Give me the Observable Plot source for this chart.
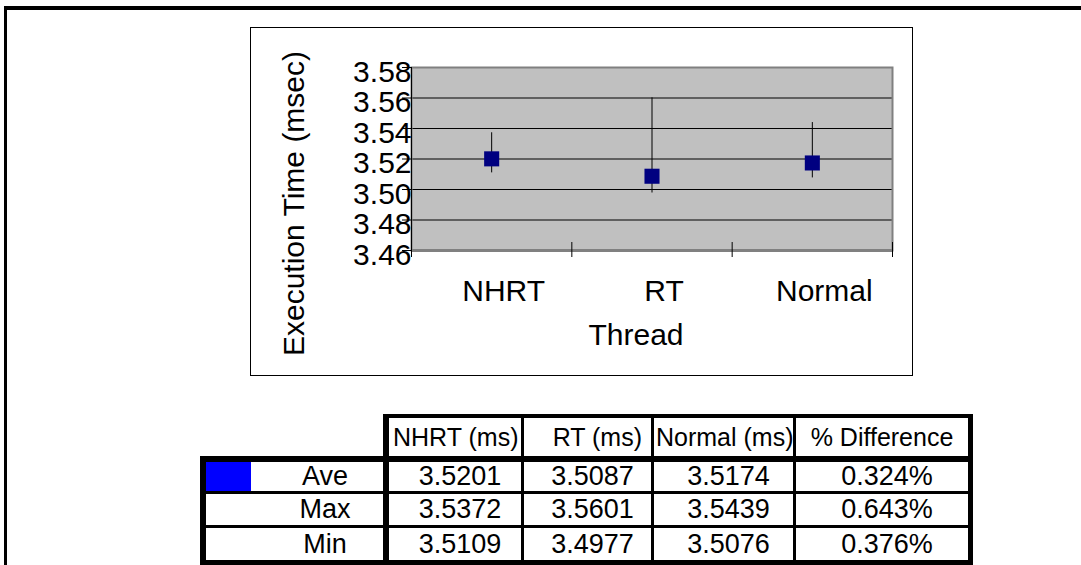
<!DOCTYPE html>
<html><head><meta charset="utf-8">
<script src="https://cdn.jsdelivr.net/npm/d3@7"></script>
<script src="https://cdn.jsdelivr.net/npm/@observablehq/plot@0.6"></script>
<style>
html,body{margin:0;padding:0;background:#fff;}
#page{position:relative;width:1081px;height:565px;overflow:hidden;font-family:"Liberation Sans",Arial,sans-serif;color:#000;}
.line{position:absolute;background:#000;}
.cell{position:absolute;display:flex;align-items:center;white-space:nowrap;line-height:1;box-sizing:border-box;}
</style></head><body><div id="page"></div>
<script>
// ---- data ----
const threads = ["NHRT", "RT", "Normal"];
const aveValues = [3.5201, 3.5087, 3.5174];
const maxValues = [3.5372, 3.5601, 3.5439];
const minValues = [3.5109, 3.4977, 3.5076];
const pctDiff = ["0.324%", "0.643%", "0.376%"];
const rowLabels = ["Ave", "Max", "Min"];
const headerLabels = ["NHRT (ms)", "RT (ms)", "Normal (ms)", "% Difference"];
const yTicks = [3.46, 3.48, 3.50, 3.52, 3.54, 3.56, 3.58];
const yTitle = "Execution Time (msec)";
const xTitle = "Thread";

const data = threads.map((t, i) => ({thread: t, pos: i + 0.5, ave: aveValues[i], max: maxValues[i], min: minValues[i]}));
const yMin = yTicks[0], yMax = yTicks[yTicks.length - 1];

const page = document.getElementById("page");
function add(cls, style, text) {
  const d = document.createElement("div");
  d.className = cls;
  Object.assign(d.style, style);
  if (text != null) d.textContent = text;
  page.appendChild(d);
  return d;
}

// outer frame lines
add("line", {left: "4px", top: "6px", width: "1077px", height: "4px"});
add("line", {left: "4px", top: "6px", width: "3px", height: "559px"});

// chart box
add("", {position: "absolute", left: "250px", top: "27px", width: "663px", height: "349px", border: "1px solid #000", boxSizing: "border-box"});

const chart = Plot.plot({
  width: 663, height: 349,
  marginLeft: 161, marginRight: 21, marginTop: 40, marginBottom: 126,
  style: {fontFamily: "'Liberation Sans', Arial, sans-serif", background: "transparent", color: "#000", overflow: "visible"},
  x: {domain: [0, threads.length], axis: null},
  y: {domain: [yMin, yMax], axis: null},
  marks: [
    Plot.frame({fill: "#c0c0c0"}),
    Plot.ruleY(yTicks.slice(1, -1), {stroke: "#000", strokeWidth: 1}),
    Plot.frame({stroke: "#808080", strokeWidth: 2}),
    Plot.ruleY([yMin], {stroke: "#808080", strokeWidth: 3}),
    Plot.ruleX([0], {y1: yMax, y2: yMin, insetBottom: -7, stroke: "#000"}),
    Plot.ruleY(yTicks, {x1: 0, x2: 0, insetLeft: -9, stroke: "#000"}),
    Plot.ruleX(d3.range(1, threads.length + 1), {y1: yMin, y2: yMin, insetTop: -8, insetBottom: -7, stroke: "#000"}),
    Plot.ruleX(data, {x: "pos", y1: "min", y2: "max", stroke: "#000"}),
    Plot.dot(data, {x: "pos", y: "ave", symbol: "square", r: 8.5, fill: "#000080"}),
    Plot.text(yTicks, {y: d => d, text: d => d.toFixed(2), frameAnchor: "left", textAnchor: "end", lineAnchor: "middle", dy: 4.5, fontSize: 30, fill: "#000"}),
    Plot.text(data, {x: "pos", text: "thread", frameAnchor: "bottom", textAnchor: "middle", lineAnchor: "middle", dy: 40.5, dx: 12, fontSize: 30, fill: "#000"}),
    Plot.text([xTitle], {text: d => d, frameAnchor: "bottom", textAnchor: "middle", lineAnchor: "middle", dy: 85, dx: -16, fontSize: 30, fill: "#000"}),
    Plot.text([yTitle], {text: d => d, frameAnchor: "left", textAnchor: "middle", lineAnchor: "middle", rotate: -90, dx: -117, dy: 44.5, fontSize: 30, fill: "#000"})
  ]
});
chart.style.position = "absolute";
chart.style.left = "250px";
chart.style.top = "27px";
page.appendChild(chart);

// ---- table ----
const colLeft = [389, 524, 654, 796];
const colWidth = [132, 127, 139, 172];
const rowTop = [462, 494, 528];
const rowHeight = [29, 31, 32];

// header cells
const headerStyles = [
  {justifyContent: "flex-start", paddingLeft: "4px"},
  {justifyContent: "flex-end", paddingRight: "9px"},
  {justifyContent: "flex-start", paddingLeft: "2px"},
  {justifyContent: "center"}
];
headerLabels.forEach((h, j) => {
  add("cell", Object.assign({left: colLeft[j] + "px", top: "418px", width: colWidth[j] + "px", height: "38px", fontSize: "25px"}, headerStyles[j]), h);
});

// blue legend swatch
add("", {position: "absolute", left: "206px", top: "462px", width: "45px", height: "29px", background: "#0000ff"});

const rows = [aveValues, maxValues, minValues];
rows.forEach((vals, r) => {
  add("cell", {left: "206px", top: rowTop[r] + "px", width: "238px", height: rowHeight[r] + "px", fontSize: "27px", justifyContent: "center"}, rowLabels[r]);
  const texts = vals.map(v => v.toFixed(4)).concat([pctDiff[r]]);
  texts.forEach((t, j) => {
    add("cell", {left: colLeft[j] + "px", top: rowTop[r] + "px", width: colWidth[j] + "px", height: rowHeight[r] + "px", fontSize: "27px", justifyContent: "center", paddingLeft: "10px"}, t);
  });
});

// table borders
add("line", {left: "383px", top: "414px", width: "590px", height: "4px"});
add("line", {left: "200px", top: "456px", width: "773px", height: "6px"});
add("line", {left: "200px", top: "491px", width: "773px", height: "3px"});
add("line", {left: "200px", top: "525px", width: "773px", height: "3px"});
add("line", {left: "200px", top: "560px", width: "773px", height: "6px"});
add("line", {left: "200px", top: "456px", width: "6px", height: "110px"});
add("line", {left: "383px", top: "414px", width: "6px", height: "152px"});
add("line", {left: "521px", top: "414px", width: "3px", height: "152px"});
add("line", {left: "651px", top: "414px", width: "3px", height: "152px"});
add("line", {left: "793px", top: "414px", width: "3px", height: "152px"});
add("line", {left: "968px", top: "414px", width: "5px", height: "152px"});
</script>
</body></html>
